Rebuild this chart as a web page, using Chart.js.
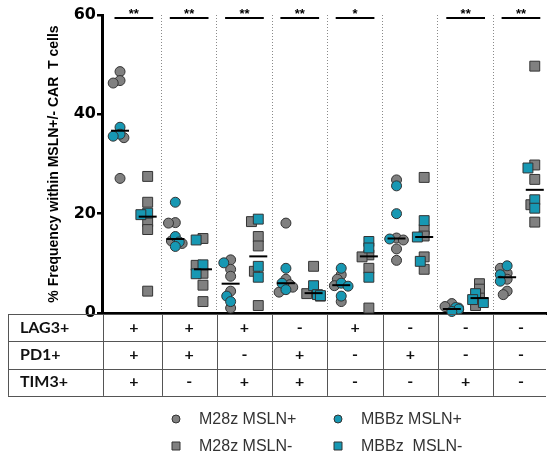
<!DOCTYPE html>
<html>
<head>
<meta charset="utf-8">
<script src="https://cdn.jsdelivr.net/npm/chart.js@4/dist/chart.umd.min.js"></script>
<style>
body { margin: 0; background: #fff; }
#wrap { width: 557px; height: 458px; }
</style>
</head>
<body>
<div id="wrap"><canvas id="chart" width="557" height="458"></canvas></div>
<script>
/* DATA */
const lag3 = ["+", "+", "+", "-", "+", "-", "-", "-"];
const pd1  = ["+", "+", "-", "+", "-", "+", "-", "-"];
const tim3 = ["+", "-", "+", "+", "-", "-", "+", "-"];
const sig  = ["**", "**", "**", "**", "*", "", "**", "**"];
const yTicks = [0, 20, 40, 60];

// M28z MSLN+ (grey circles)
const m28zPos = [
  [48.6, 46.8, 46.3, 35.3, 27.1],
  [18.2, 18.1, 14.5, 14.0],
  [10.7, 8.8, 7.4, 4.4, 1.0],
  [18.1, 6.8, 5.7, 4.2, 5.2],
  [7.7, 6.8, 5.5, 2.3],
  [26.8, 15.1, 14.7, 12.9, 10.6],
  [1.9, 1.3, 0.7, 1.0],
  [9.0, 8.0, 6.8, 3.7, 4.4]
];
// MBBz MSLN+ (teal circles)
const mbbzPos = [
  [37.4, 36.0, 35.6],
  [22.3, 15.4, 13.4, 14.3],
  [10.1, 3.4, 2.3],
  [9.0, 6.0, 4.7],
  [9.0, 6.0, 5.4, 3.4],
  [25.6, 20.0, 14.9],
  [0.8, 0.3, 1.1],
  [9.5, 7.7, 6.4]
];
// M28z MSLN- (grey squares)
const m28zNeg = [
  [27.5, 22.3, 18.4, 16.8, 4.4],
  [15.0, 9.6, 8.0, 5.6, 2.3],
  [18.4, 15.4, 13.5, 8.4, 1.5],
  [9.4, 4.4, 3.4, 3.9],
  [11.7, 11.3, 9.0, 1.0],
  [27.3, 16.8, 15.5, 11.3, 8.8],
  [5.9, 4.8, 1.5, 3.0],
  [49.7, 29.8, 26.9, 21.8, 18.3]
];
// MBBz MSLN- (teal squares)
const mbbzNeg = [
  [19.8, 20.1],
  [14.7, 9.7, 7.9],
  [18.9, 9.4, 7.2],
  [5.5, 3.5, 3.7],
  [14.4, 13.1, 7.2],
  [18.6, 15.3, 10.4],
  [3.9, 2.1, 2.7],
  [29.2, 22.8, 21.1]
];
// median lines
const medPos = [36.7, 14.9, 5.9, 6.0, 5.6, 15.0, 0.8, 7.2];
const medNeg = [19.4, 8.8, 11.4, 4.0, 11.4, 15.3, 3.0, 24.8];
const sigLevel = 59.4;

const GREY = "#808080";
const TEAL = "#1798b3";
const EDGE = "#333333";

/* SWARM - nudge overlapping points sideways a little */
const PX_X = 56.7, PX_Y = 4.97;
function swarm(lists, side) {
  const out = lists.map(() => []);
  for (let g = 0; g < 8; g++) {
    const pts = [];
    lists.forEach((l, k) => l[g].forEach(v => pts.push({ v, k })));
    pts.sort((a, b) => b.v - a.v);
    const placed = [];
    const steps = [0, -4, 4, -7, 7];
    pts.forEach(p => {
      let dx = steps[steps.length - 1];
      for (const s of steps) {
        if (placed.every(q => Math.hypot(q.dx - s, (q.v - p.v) * PX_Y) >= 5)) { dx = s; break; }
      }
      p.dx = dx;
      placed.push(p);
      out[p.k].push({ x: g + 0.5 + side + dx / PX_X, y: p.v });
    });
  }
  return out;
}
const [greyCirc, tealCirc] = swarm([m28zPos, mbbzPos], -0.25);
const [greySq, tealSq] = swarm([m28zNeg, mbbzNeg], 0.25);

const medData = medPos.map((v, i) => ({ x: i + 0.25, y: v }))
  .concat(medNeg.map((v, i) => ({ x: i + 0.75, y: v })));

const sigData = [];
sig.forEach((s, i) => {
  if (!s) return;
  sigData.push({ x: i + 0.15, y: sigLevel }, { x: i + 0.85, y: sigLevel }, { x: i + 0.9, y: null });
});

/* TABLE, STARS, LEGEND */
const extras = {
  id: "extras",
  afterDraw(c) {
    const ctx = c.ctx;
    const x = c.scales.x, y = c.scales.y;
    ctx.save();

    // stars
    ctx.fillStyle = "#000";
    ctx.font = "bold 13px 'Liberation Sans', Arial";
    ctx.textAlign = "center";
    ctx.textBaseline = "bottom";
    sig.forEach((s, i) => {
      if (s) ctx.fillText(s, x.getPixelForValue(i + 0.5), y.getPixelForValue(sigLevel) + 3);
    });

    // table
    const rows = [["LAG3+", lag3], ["PD1+", pd1], ["TIM3+", tim3]];
    const top = 314, rh = 27.3, left = 8, right = c.chartArea.right;
    ctx.strokeStyle = "#555";
    ctx.lineWidth = 1;
    ctx.beginPath();
    for (let r = 0; r <= rows.length; r++) {
      const yy = Math.round(top + r * rh) + 0.5;
      ctx.moveTo(left, yy); ctx.lineTo(right, yy);
    }
    const cols = [left, c.chartArea.left + 1];
    for (let i = 1; i < 8; i++) cols.push(x.getPixelForValue(i));
    cols.forEach(cx => {
      const xx = Math.round(cx) + 0.5;
      ctx.moveTo(xx, top); ctx.lineTo(xx, top + rows.length * rh);
    });
    ctx.stroke();

    ctx.font = "bold 16px Lato";
    ctx.textBaseline = "middle";
    rows.forEach(([label, signs], r) => {
      const cy = top + r * rh + rh / 2;
      ctx.textAlign = "left";
      ctx.fillStyle = "#111";
      ctx.fillText(label, 20, cy);
      ctx.textAlign = "center";
      signs.forEach((s, i) => ctx.fillText(s, x.getPixelForValue(i + 0.5), cy));
    });

    // legend
    const items = [
      ["M28z MSLN+", GREY, "circle", 176, 419],
      ["MBBz MSLN+", TEAL, "circle", 338, 419],
      ["M28z MSLN-", GREY, "rect", 176, 446],
      ["MBBz  MSLN-", TEAL, "rect", 338, 446]
    ];
    ctx.font = "16px 'Liberation Sans', Arial";
    ctx.textAlign = "left";
    items.forEach(([t, col, shape, mx, my]) => {
      ctx.fillStyle = col;
      ctx.strokeStyle = EDGE;
      ctx.lineWidth = 1;
      ctx.beginPath();
      if (shape === "circle") ctx.arc(mx, my, 4, 0, Math.PI * 2);
      else ctx.rect(mx - 4, my - 4, 8, 8);
      ctx.fill(); ctx.stroke();
      ctx.fillStyle = "#333";
      ctx.fillText(t, mx + 23, my + 1);
    });
    ctx.restore();
  }
};

const pointDs = (label, data, color, style, r, order) => ({
  label, data, order,
  pointStyle: style,
  pointRadius: r,
  backgroundColor: color,
  borderColor: EDGE,
  borderWidth: 1,
  clip: false
});

new Chart(document.getElementById("chart"), {
  type: "scatter",
  data: {
    datasets: [
      {
        label: "median", data: medData, order: 0,
        pointStyle: "line", pointRadius: 9,
        borderColor: "#000", borderWidth: 2, clip: false
      },
      {
        type: "line", label: "sig", data: sigData, order: 0,
        showLine: true, spanGaps: false, pointRadius: 0,
        borderColor: "#000", borderWidth: 2, clip: false
      },
      pointDs("MBBz MSLN+", tealCirc, TEAL, "circle", 5, 1),
      pointDs("M28z MSLN+", greyCirc, GREY, "circle", 5, 2),
      pointDs("MBBz  MSLN-", tealSq, TEAL, "rect", 7, 1),
      pointDs("M28z MSLN-", greySq, GREY, "rect", 7, 2)
    ]
  },
  options: {
    responsive: false,
    animation: false,
    events: [],
    layout: { padding: { top: 15, bottom: 145, left: 0, right: 0 } },
    plugins: { legend: { display: false }, tooltip: { enabled: false } },
    scales: {
      x: {
        type: "linear", min: -0.076, max: 7.953,
        afterBuildTicks: s => { s.ticks = [1, 2, 3, 4, 5, 6, 7].map(v => ({ value: v })); },
        ticks: { display: false },
        grid: { drawTicks: false, color: "#8a8a8a", lineWidth: 1 },
        border: { display: true, color: "#000", width: 3, dash: [1, 2] }
      },
      y: {
        min: 0, max: 60,
        afterBuildTicks: s => { s.ticks = yTicks.map(v => ({ value: v })); },
        afterFit: s => { s.width = 102; },
        ticks: { color: "#000", padding: 1, font: { family: "DejaVu Sans", size: 16, weight: "bold" } },
        grid: { drawOnChartArea: false, drawTicks: true, tickLength: 5, lineWidth: 2.5, color: "#000" },
        border: { color: "#000", width: 3 },
        title: {
          display: true,
          text: "% Frequency within MSLN+/- CAR  T cells",
          color: "#000",
          padding: { top: 46, bottom: 0 },
          font: { family: "'Liberation Sans', Arial", size: 14, weight: "bold" }
        }
      }
    }
  },
  plugins: [extras]
});
</script>
</body>
</html>
